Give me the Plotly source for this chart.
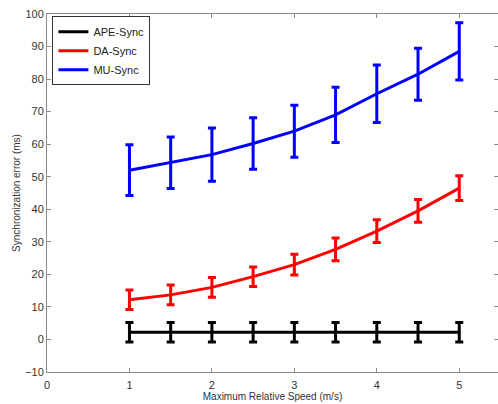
import plotly.graph_objects as go

speed = [1, 1.5, 2, 2.5, 3, 3.5, 4, 4.5, 5]
ape_mean = [2.2, 2.2, 2.2, 2.2, 2.2, 2.2, 2.2, 2.2, 2.2]
ape_err = [3, 3, 3, 3, 3, 3, 3, 3, 3]
da_mean = [12.2, 13.7, 16.0, 19.3, 23.0, 27.7, 33.3, 39.5, 46.5]
da_err = [3, 3, 3, 3, 3.2, 3.5, 3.5, 3.5, 3.8]
mu_mean = [52.0, 54.3, 56.8, 60.2, 64.0, 69.0, 75.5, 81.5, 88.5]
mu_err = [7.8, 7.9, 8.2, 7.9, 8.0, 8.5, 8.8, 8.0, 8.8]

series = [
    ("APE-Sync", ape_mean, ape_err, "#000000"),
    ("DA-Sync", da_mean, da_err, "#ff0000"),
    ("MU-Sync", mu_mean, mu_err, "#0000ff"),
]

fig = go.Figure()
for name, m, e, c in series:
    fig.add_trace(go.Scatter(
        x=speed, y=m, name=name, mode="lines",
        line=dict(color=c, width=3),
        error_y=dict(type="data", array=e, visible=True, color=c, thickness=3, width=4),
    ))

axis_common = dict(
    showline=True, linecolor="#8a8a8a", linewidth=1, mirror="ticks",
    ticks="inside", ticklen=4, tickcolor="#8a8a8a",
    showgrid=False, zeroline=False,
    tickfont=dict(family="Liberation Sans, Arial, sans-serif", size=11, color="#333333"),
)

fig.update_layout(
    width=498, height=404,
    margin=dict(l=47, r=0, t=14, b=32),
    paper_bgcolor="white", plot_bgcolor="white",
    font=dict(family="Liberation Sans, Arial, sans-serif", color="#333333"),
    xaxis=dict(range=[0, 5.47], tickvals=[0, 1, 2, 3, 4, 5],
               ticklabelstandoff=3,
               title=dict(text="Maximum Relative Speed (m/s)", font=dict(size=10), standoff=1),
               **axis_common),
    yaxis=dict(range=[-10, 100], tickvals=list(range(-10, 101, 10)),
               title=dict(text="Synchronization error (ms)", font=dict(size=10), standoff=2),
               **axis_common),
    legend=dict(x=0.012, y=0.994, xanchor="left", yanchor="top",
                bgcolor="white", bordercolor="#333333", borderwidth=1,
                font=dict(size=11, color="#222222"), tracegroupgap=0,
                itemwidth=30),
    showlegend=True,
)

fig.write_html("out.html")
